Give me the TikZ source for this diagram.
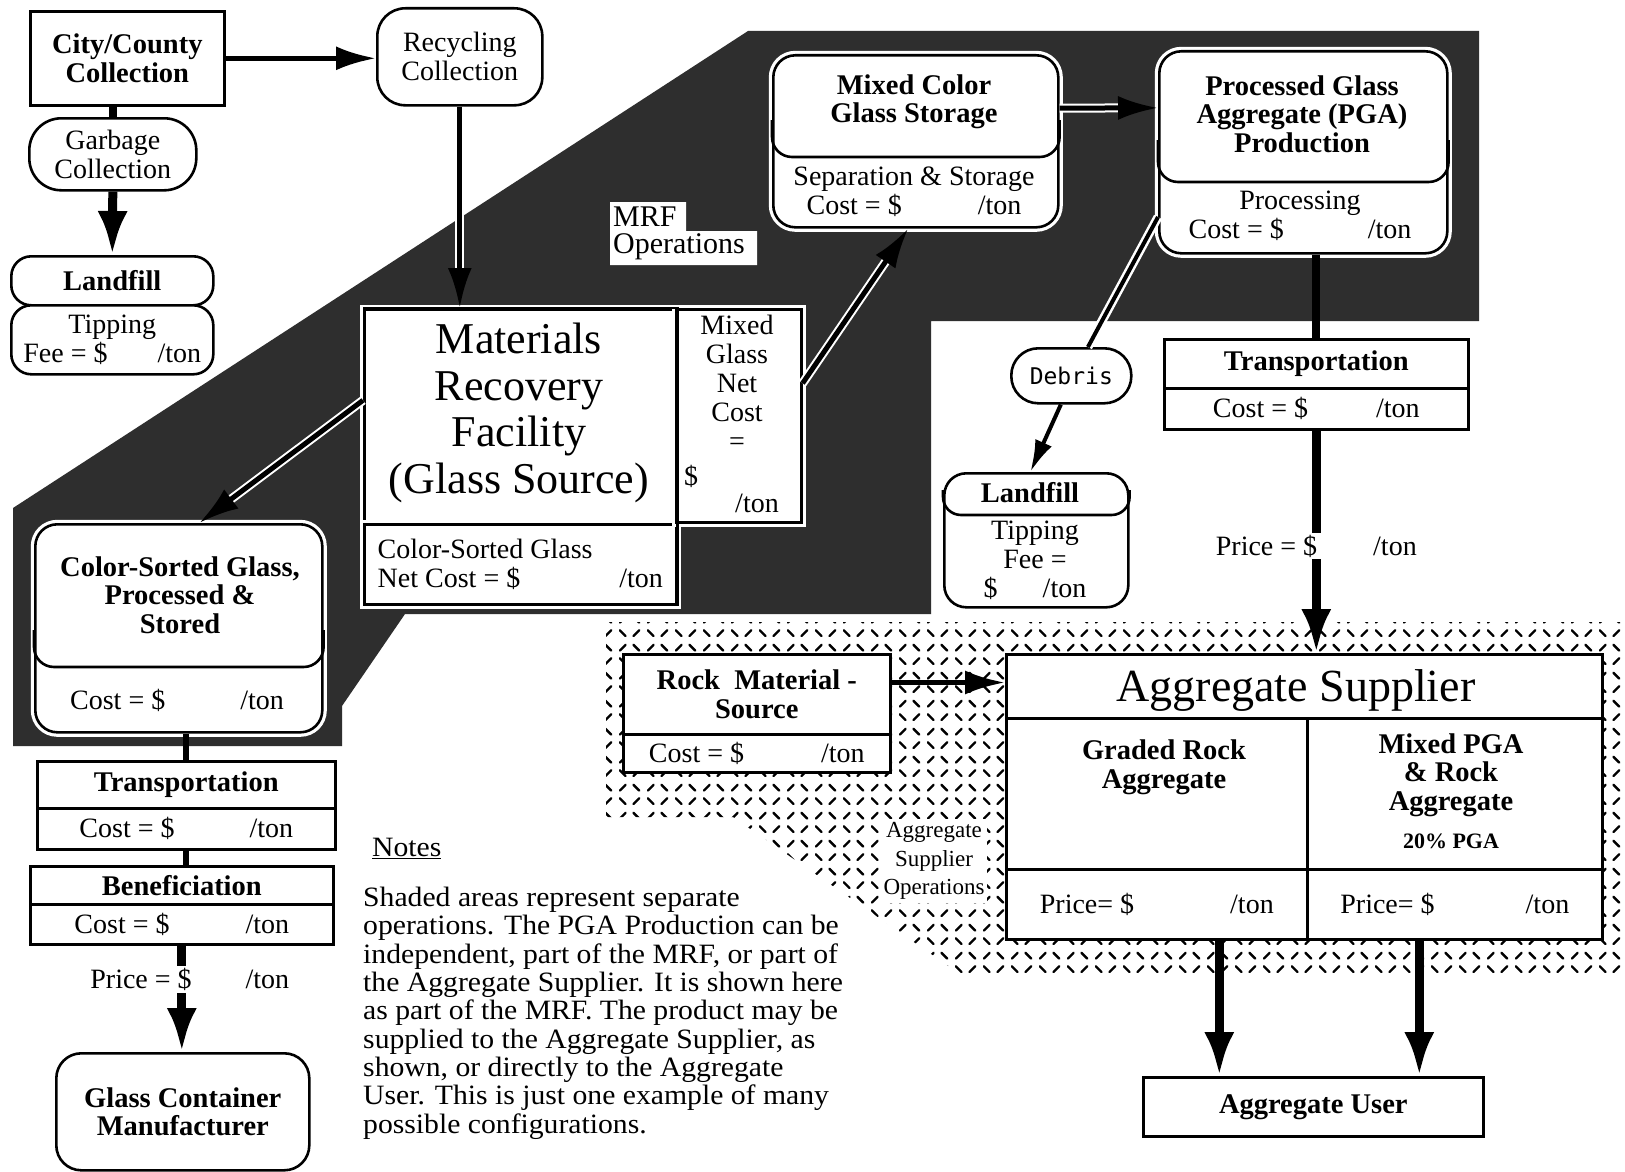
\documentclass[tikz,border=0pt]{standalone}
\usepackage{fontspec}
\setmainfont{Liberation Serif}
\newfontfamily\debrisfont{DejaVu Sans Mono}
\newfontfamily\notefont{Liberation Serif}[FakeStretch=1.06]
\usetikzlibrary{arrows.meta,calc,patterns}

\definecolor{mrfshade}{gray}{0.18}
\newcommand{\perton}[1]{\$\hspace{#1}/ton}

% dashes for the aggregate supplier operations area
\pgfdeclarepatternformonly{aggdash}{\pgfqpoint{0pt}{0pt}}{\pgfqpoint{28pt}{28pt}}{\pgfqpoint{28pt}{28pt}}{%
  \pgfsetlinewidth{2.4pt}\pgfsetroundcap
  \pgfpathmoveto{\pgfqpoint{4pt}{18pt}}\pgfpathlineto{\pgfqpoint{10pt}{24pt}}%
  \pgfpathmoveto{\pgfqpoint{18pt}{24pt}}\pgfpathlineto{\pgfqpoint{24pt}{18pt}}%
  \pgfpathmoveto{\pgfqpoint{4pt}{10pt}}\pgfpathlineto{\pgfqpoint{10pt}{4pt}}%
  \pgfpathmoveto{\pgfqpoint{18pt}{4pt}}\pgfpathlineto{\pgfqpoint{24pt}{10pt}}%
  \pgfusepath{stroke}}

\tikzset{
  box/.style={draw, line width=2.6pt, fill=white, inner sep=0pt, anchor=north west},
  rbox/.style={box, rounded corners=22pt},
  rim/.style={preaction={draw=white, line width=9pt}},
  wh/.style 2 args={minimum width=#1, minimum height=#2},
  divider/.style={line width=2.6pt, rounded corners=20pt},
  txt/.style={font=\fontsize{28}{29}\selectfont, align=center, inner sep=0pt},
  btxt/.style={font=\fontsize{28.5}{28.5}\selectfont\bfseries, align=center, inner sep=0pt},
  bigtxt/.style={font=\fontsize{44}{46.5}\selectfont, align=center, inner sep=0pt},
  mrftag/.style={font=\fontsize{30}{30}\selectfont, anchor=west, inner sep=0pt},
  pricetag/.style={txt, fill=white, inner sep=2pt},
  arr/.style={draw=black, line width=5pt, -{Latex[length=40pt, width=24pt]}},
  fatarr/.style={line width=9pt, -{Latex[length=44pt, width=30pt]}},
  link/.style={line width=8pt},
  haloline/.style={draw=white, line width=9pt, shorten >=#1}
}

\begin{document}
\begin{tikzpicture}[x=1pt, y=-1pt]
\fill[white] (0,0) rectangle (1625,1172);
\useasboundingbox (0,0) rectangle (1625,1172);

% shaded operation areas
\fill[mrfshade] (13,746) -- (13,508) -- (748,31) -- (1479,31) -- (1479,321) -- (931,321)
  -- (931,614) -- (405,614) -- (342,706) -- (342,746) -- cycle;
\fill[pattern=aggdash] (606,622) -- (1625,622) -- (1625,974) -- (960,974) -- (733,817) -- (606,817) -- cycle;
% white ground of the MRF Operations tag
\fill[white] (610,202) rectangle (686,232) (610,231) rectangle (757,265);

% collection
\node[box, wh={194}{94}, btxt] (city) at (29,10) {City/County\\Collection};
\node[rbox, rounded corners=28pt, wh={165}{97}, txt] (recyc) at (376,7) {Recycling\\Collection};
\node[rbox, rounded corners=32pt, wh={167}{72}, txt] (garbage) at (28,117) {Garbage\\Collection};
\node[rbox, rounded corners=20pt, wh={202}{49}, btxt] (landfillA) at (10,255) {Landfill};
\node[rbox, rounded corners=20pt, wh={202}{69}, txt] (landfillB) at (10,304) {Tipping\\Fee = \perton{50pt}};

% materials recovery facility
\node[box, rim, wh={312}{215}] (mrf) at (363,308) {};
\node[bigtxt] (mrftitle) at (519,413) {Materials\\Recovery\\Facility\\(Glass Source)};
\node[box, rim, wh={312}{80}, txt, align=left] (csnet) at (363,523) {Color-Sorted Glass\\Net Cost = \perton{99pt}};
\node[box, rim, wh={125}{213}] (mixnet) at (675,308) {};
\draw[line width=2.6pt] (mrf.north west) -- (mrf.north east) -- (csnet.south east);
\node[txt, anchor=north] (mixnettxt) at (737,315) {Mixed\\Glass\\Net\\Cost\\=};
\node[txt, anchor=west] (mixnetdol) at (684,476) {\$};
\node[txt] (mixnetton) at (757,503) {/ton};
\node[mrftag] (mrfop) at (613,217) {MRF};
\node[mrftag] (mrfops) at (613,247) {Operations};

% mixed color storage and PGA production
\node[rbox, rim, wh={285}{172}] (storage) at (772,54) {};
\draw[divider] (storage.west |- 0,120) |- (914,157) -| (storage.east |- 0,120);
\node[btxt] (storagetxt) at (914,102) {Mixed Color\\Glass Storage};
\node[txt] (storagecost) at (914,192) {Separation \& Storage\\Cost = \perton{76pt}};

\node[rbox, rim, wh={288}{202}] (pga) at (1158,50) {};
\draw[divider] (pga.west |- 0,140) |- (1302,182) -| (pga.east |- 0,140);
\node[btxt] (pgatxt) at (1302,114) {Processed Glass\\Aggregate (PGA)\\Production};
\node[txt] (pgacost) at (1300,216) {Processing\\Cost = \perton{84pt}};

\node[box, wh={304}{49}, btxt] (transR) at (1163,338) {Transportation};
\node[box, wh={304}{41}, txt] (transRc) at (1163,387) {Cost = \perton{68pt}};

% debris
\node[rbox, rounded corners=27pt, wh={120}{55}, font=\debrisfont\fontsize{23}{25}\selectfont] (debris) at (1010,347) {Debris};
\node[rbox, wh={184}{134}] (landfillR) at (943,472) {};
\draw[divider, rounded corners=18pt] (landfillR.west |- 0,490) |- (1035,515) -| (landfillR.east |- 0,490);
\node[btxt] (landfillRtxt) at (1030,493) {Landfill};
\node[txt] (landfillRfee) at (1035,560) {Tipping\\Fee =\\\perton{45pt}};

% color-sorted glass route
\node[rbox, rim, wh={287}{208}] (colorsorted) at (34,523) {};
\draw[divider] (colorsorted.west |- 0,630) |- (177,667) -| (colorsorted.east |- 0,630);
\node[btxt] (colorsortedtxt) at (180,595) {Color-Sorted Glass,\\Processed \&\\Stored};
\node[txt] (colorsortedcost) at (177,700) {Cost = \perton{75pt}};

\node[box, wh={298}{47}, btxt] (transL) at (36,760) {Transportation};
\node[box, wh={298}{41}, txt] (transLc) at (36,807) {Cost = \perton{75pt}};
\node[box, wh={303}{38}, btxt] (benef) at (29,865) {Beneficiation};
\node[box, wh={303}{40}, txt] (benefc) at (29,903) {Cost = \perton{76pt}};
\node[rbox, rounded corners=25pt, wh={253}{117}, btxt] (glasscm) at (55,1052) {Glass Container\\Manufacturer};

% aggregate supplier
\node[box, wh={267}{80}, btxt] (rock) at (622,653) {Rock\ \ Material -\\Source};
\node[box, wh={267}{38}, txt] (rockc) at (622,733) {Cost = \perton{77pt}};
\node[txt, fill=white, font=\fontsize{23}{28.5}\selectfont, inner sep=3pt] (asops) at (934,861) {Aggregate\\Supplier\\Operations};

\node[box, wh={596}{64}] (aggsup) at (1005,653) {};
\node[bigtxt, font=\fontsize{46}{48}\selectfont] (aggsuptxt) at (1296,690) {Aggregate Supplier};
\node[box, wh={301}{151}] (graded) at (1005,717) {};
\node[box, wh={295}{151}] (mixpga) at (1306,717) {};
\node[btxt] (gradedtxt) at (1164,767) {Graded Rock\\Aggregate};
\node[btxt] (mixpgatxt) at (1451,775) {Mixed PGA\\\& Rock\\Aggregate};
\node[btxt, font=\fontsize{22}{24}\selectfont\bfseries] (pgashare) at (1451,841) {20\% PGA};
\node[box, wh={301}{70}, txt] (priceL) at (1005,868) {Price= \perton{96pt}};
\node[box, wh={295}{70}, txt] (priceR) at (1306,868) {Price= \perton{91pt}};
\node[box, wh={340}{59}, btxt] (agguser) at (1142,1076) {Aggregate User};
\coordinate (userL) at ($(agguser.north)+(-94,0)$);
\coordinate (userR) at ($(agguser.north)+(106,0)$);

% notes
\node[txt, anchor=west, font=\notefont\fontsize{28}{28.3}\selectfont] (noteshead) at (372,848) {\underline{Notes}};
\node[txt, anchor=north west, align=left, font=\notefont\fontsize{28}{28.3}\selectfont] (notes) at (363,887)
  {Shaded areas represent separate\\
   operations. The PGA Production can be\\
   independent, part of the MRF, or part of\\
   the Aggregate Supplier. It is shown here\\
   as part of the MRF. The product may be\\
   supplied to the Aggregate Supplier, as\\
   shown, or directly to the Aggregate\\
   User. This is just one example of many\\
   possible configurations.};

% connectors
\draw[arr] (city.east) -- (city.east -| recyc.west);
\draw[link] (garbage.north |- city.south) -- (garbage.north);
\draw[fatarr] (garbage.south) -- (landfillA.north);
% arrows across the dark MRF area get a white rim
\draw[haloline=24pt] (recyc.south) -- (recyc.south |- mrf.north);
\draw[arr] (recyc.south) -- (recyc.south |- mrf.north);
\draw[haloline=24pt] (mixnet.27) -- (storage.265);
\draw[arr] (mixnet.27) -- (storage.265);
\draw[haloline=24pt] (mrf.174) -- (colorsorted.79);
\draw[arr] (mrf.174) -- (colorsorted.79);
\draw[haloline=24pt] (storage.13) -- (pga.163);
\draw[arr] (storage.13) -- (pga.163);
\draw[haloline=0pt] (pga.204) -- (debris.60);
\draw[draw=black, line width=4pt] (pga.204) -- (debris.60);
\draw[line width=4pt, -{Latex[length=32pt, width=18pt]}] (debris.-110) -- (landfillR.95);
\draw[link] (pga.south -| transR.north) -- (transR.north);
\draw[fatarr] (transRc.south) -- (transRc.south |- aggsup.north)
  node[pricetag, pos=0.52] (priceRtag) {Price = \perton{56pt}};
\draw[link, line width=6pt] (colorsorted.south -| transL.north) -- (transL.north);
\draw[link, line width=6pt] (transLc.south) -- (transLc.south |- benef.north);
\draw[fatarr] (benefc.south) -- (benefc.south |- glasscm.north)
  node[pricetag, pos=0.32, xshift=8pt] (priceLtag) {Price = \perton{54pt}};
\draw[arr] (rock.5) -- (rock.5 -| aggsup.west);
\draw[fatarr] (userL |- priceL.south) -- (userL);
\draw[fatarr] (userR |- priceR.south) -- (userR);
\end{tikzpicture}
\end{document}
